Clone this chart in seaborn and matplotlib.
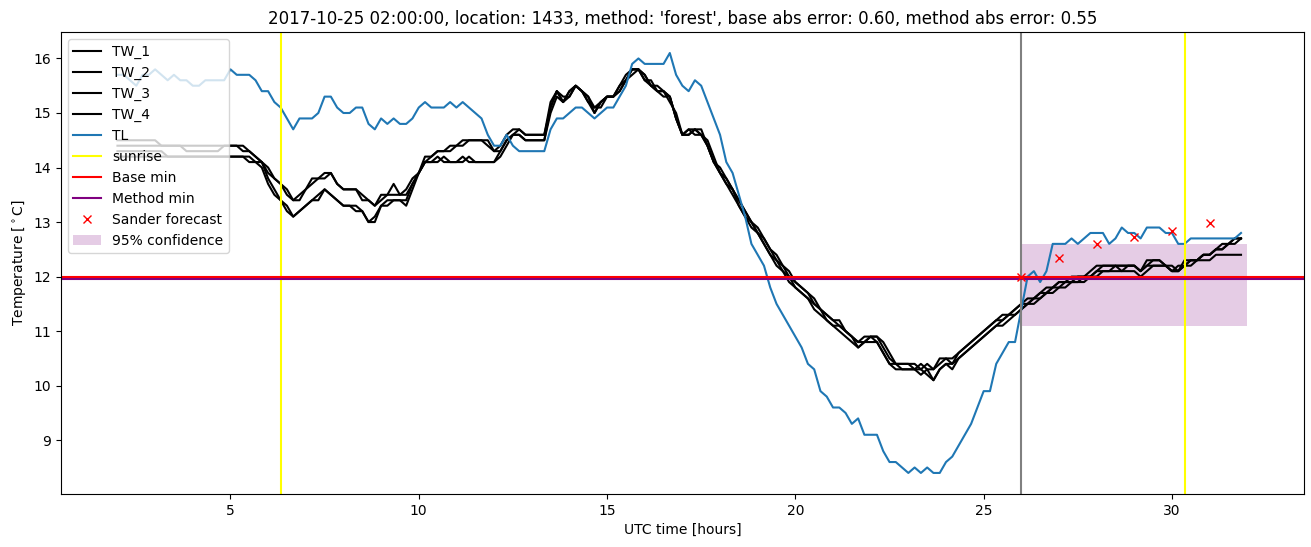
import numpy as np
import matplotlib
matplotlib.use("Agg")
import matplotlib.pyplot as plt
import seaborn as sns

# ---- data (10-minute samples, 02:00 .. 31:50 hours) ----
start_hour = 2.0
step_hours = 1 / 6

TW_1 = [
    14.5, 14.5, 14.5, 14.5, 14.5, 14.5,
    14.5, 14.4, 14.4, 14.4, 14.4, 14.4,
    14.4, 14.4, 14.4, 14.4, 14.4, 14.4,
    14.4, 14.4, 14.4, 14.3, 14.2, 14.1,
    13.9, 13.8, 13.7, 13.6, 13.4, 13.5,
    13.6, 13.8, 13.8, 13.9, 13.9, 13.7,
    13.6, 13.6, 13.6, 13.4, 13.4, 13.3,
    13.5, 13.5, 13.7, 13.5, 13.6, 13.8,
    13.9, 14.2, 14.2, 14.3, 14.3, 14.4,
    14.4, 14.5, 14.5, 14.5, 14.5, 14.4,
    14.3, 14.4, 14.6, 14.7, 14.7, 14.6,
    14.6, 14.6, 14.6, 15.2, 15.4, 15.2,
    15.4, 15.5, 15.4, 15.3, 15.1, 15.2,
    15.3, 15.3, 15.5, 15.7, 15.8, 15.8,
    15.7, 15.5, 15.5, 15.4, 15.3, 14.9,
    14.6, 14.7, 14.7, 14.7, 14.4, 14.1,
    14.0, 13.8, 13.6, 13.4, 13.2, 13.0,
    12.8, 12.7, 12.5, 12.3, 12.2, 12.0,
    11.9, 11.8, 11.7, 11.5, 11.4, 11.3,
    11.2, 11.1, 11.0, 10.9, 10.8, 10.8,
    10.9, 10.9, 10.7, 10.5, 10.4, 10.4,
    10.4, 10.4, 10.3, 10.4, 10.3, 10.5,
    10.5, 10.4, 10.6, 10.7, 10.8, 10.9,
    11.0, 11.1, 11.2, 11.3, 11.3, 11.4,
    11.5, 11.6, 11.6, 11.7, 11.8, 11.8,
    11.9, 11.9, 11.9, 12.0, 12.0, 12.1,
    12.2, 12.2, 12.2, 12.2, 12.2, 12.2,
    12.2, 12.1, 12.3, 12.3, 12.3, 12.2,
    12.1, 12.1, 12.3, 12.3, 12.3, 12.4,
    12.4, 12.5, 12.5, 12.6, 12.7, 12.7,
]

TW_2 = [
    14.4, 14.4, 14.4, 14.4, 14.4, 14.4,
    14.4, 14.4, 14.4, 14.4, 14.4, 14.3,
    14.3, 14.3, 14.3, 14.3, 14.3, 14.4,
    14.4, 14.4, 14.3, 14.3, 14.2, 14.1,
    14.0, 13.8, 13.7, 13.5, 13.4, 13.4,
    13.6, 13.7, 13.8, 13.8, 13.9, 13.7,
    13.6, 13.6, 13.6, 13.5, 13.4, 13.3,
    13.4, 13.5, 13.5, 13.5, 13.5, 13.7,
    13.9, 14.1, 14.2, 14.3, 14.3, 14.3,
    14.4, 14.4, 14.5, 14.5, 14.5, 14.5,
    14.3, 14.3, 14.5, 14.6, 14.7, 14.6,
    14.6, 14.6, 14.6, 15.1, 15.4, 15.3,
    15.3, 15.5, 15.4, 15.3, 15.0, 15.2,
    15.3, 15.3, 15.4, 15.6, 15.8, 15.8,
    15.6, 15.6, 15.4, 15.4, 15.3, 14.9,
    14.6, 14.6, 14.7, 14.6, 14.4, 14.1,
    13.9, 13.8, 13.6, 13.4, 13.2, 13.0,
    12.9, 12.7, 12.5, 12.4, 12.2, 12.1,
    11.9, 11.8, 11.7, 11.6, 11.4, 11.3,
    11.2, 11.2, 11.0, 10.9, 10.8, 10.9,
    10.9, 10.9, 10.8, 10.6, 10.4, 10.4,
    10.4, 10.3, 10.4, 10.3, 10.3, 10.4,
    10.5, 10.5, 10.6, 10.7, 10.8, 10.9,
    11.0, 11.1, 11.2, 11.2, 11.3, 11.4,
    11.5, 11.5, 11.6, 11.7, 11.7, 11.8,
    11.9, 11.9, 12.0, 12.0, 12.0, 12.0,
    12.1, 12.2, 12.2, 12.2, 12.1, 12.2,
    12.2, 12.1, 12.2, 12.3, 12.3, 12.2,
    12.1, 12.2, 12.2, 12.3, 12.3, 12.4,
    12.4, 12.5, 12.6, 12.6, 12.6, 12.7,
]

TW_3 = [
    14.3, 14.3, 14.3, 14.3, 14.3, 14.3,
    14.3, 14.3, 14.2, 14.2, 14.2, 14.2,
    14.2, 14.2, 14.2, 14.2, 14.2, 14.2,
    14.2, 14.2, 14.2, 14.2, 14.1, 14.1,
    13.8, 13.6, 13.4, 13.3, 13.1, 13.2,
    13.3, 13.4, 13.5, 13.6, 13.5, 13.4,
    13.3, 13.3, 13.3, 13.2, 13.0, 13.0,
    13.3, 13.3, 13.4, 13.4, 13.3, 13.6,
    13.9, 14.1, 14.1, 14.2, 14.1, 14.1,
    14.1, 14.2, 14.1, 14.1, 14.1, 14.1,
    14.1, 14.3, 14.5, 14.6, 14.6, 14.5,
    14.5, 14.5, 14.5, 15.1, 15.4, 15.2,
    15.3, 15.5, 15.4, 15.2, 15.1, 15.1,
    15.3, 15.3, 15.5, 15.6, 15.7, 15.8,
    15.6, 15.5, 15.4, 15.3, 15.3, 14.9,
    14.6, 14.6, 14.7, 14.6, 14.4, 14.1,
    13.9, 13.7, 13.6, 13.3, 13.1, 13.0,
    12.8, 12.6, 12.4, 12.3, 12.1, 12.0,
    11.8, 11.7, 11.6, 11.5, 11.4, 11.2,
    11.1, 11.1, 11.0, 10.9, 10.7, 10.8,
    10.9, 10.8, 10.6, 10.4, 10.4, 10.3,
    10.3, 10.3, 10.3, 10.2, 10.1, 10.3,
    10.4, 10.3, 10.5, 10.6, 10.7, 10.8,
    10.9, 11.0, 11.1, 11.2, 11.3, 11.3,
    11.4, 11.5, 11.6, 11.6, 11.7, 11.8,
    11.8, 11.9, 11.9, 11.9, 12.0, 12.0,
    12.1, 12.1, 12.1, 12.2, 12.2, 12.2,
    12.2, 12.1, 12.2, 12.2, 12.2, 12.2,
    12.1, 12.1, 12.2, 12.2, 12.3, 12.3,
    12.3, 12.4, 12.4, 12.4, 12.4, 12.4,
]

TW_4 = [
    14.2, 14.2, 14.2, 14.2, 14.2, 14.2,
    14.2, 14.2, 14.2, 14.2, 14.2, 14.2,
    14.2, 14.2, 14.2, 14.2, 14.2, 14.2,
    14.2, 14.2, 14.2, 14.1, 14.1, 14.0,
    13.7, 13.5, 13.4, 13.2, 13.1, 13.2,
    13.3, 13.4, 13.4, 13.6, 13.5, 13.4,
    13.3, 13.3, 13.2, 13.2, 13.0, 13.1,
    13.3, 13.4, 13.4, 13.4, 13.4, 13.7,
    13.9, 14.1, 14.1, 14.1, 14.2, 14.1,
    14.1, 14.1, 14.2, 14.1, 14.1, 14.1,
    14.1, 14.2, 14.4, 14.6, 14.6, 14.5,
    14.5, 14.5, 14.5, 15.0, 15.3, 15.2,
    15.4, 15.5, 15.4, 15.2, 15.0, 15.2,
    15.3, 15.3, 15.4, 15.6, 15.8, 15.8,
    15.7, 15.5, 15.4, 15.4, 15.2, 15.0,
    14.6, 14.7, 14.6, 14.6, 14.5, 14.2,
    13.9, 13.7, 13.5, 13.3, 13.1, 12.9,
    12.8, 12.6, 12.4, 12.2, 12.1, 11.9,
    11.8, 11.7, 11.6, 11.4, 11.3, 11.2,
    11.1, 11.0, 10.9, 10.8, 10.7, 10.8,
    10.8, 10.8, 10.6, 10.4, 10.3, 10.3,
    10.3, 10.3, 10.2, 10.3, 10.1, 10.3,
    10.4, 10.4, 10.5, 10.6, 10.7, 10.8,
    10.9, 11.0, 11.1, 11.1, 11.2, 11.3,
    11.4, 11.5, 11.5, 11.6, 11.7, 11.7,
    11.8, 11.8, 11.9, 11.9, 11.9, 12.0,
    12.0, 12.1, 12.1, 12.1, 12.1, 12.1,
    12.1, 12.0, 12.1, 12.2, 12.2, 12.2,
    12.2, 12.1, 12.2, 12.3, 12.3, 12.4,
    12.4, 12.5, 12.5, 12.6, 12.7, 12.7,
]

TL = [
    15.7, 15.7, 15.6, 15.5, 15.7, 15.7,
    15.8, 15.7, 15.6, 15.7, 15.6, 15.6,
    15.5, 15.5, 15.6, 15.6, 15.6, 15.6,
    15.8, 15.7, 15.7, 15.7, 15.6, 15.4,
    15.4, 15.2, 15.1, 14.9, 14.7, 14.9,
    14.9, 14.9, 15.0, 15.3, 15.3, 15.1,
    15.0, 15.0, 15.1, 15.1, 14.8, 14.7,
    14.9, 14.8, 14.9, 14.8, 14.8, 14.9,
    15.1, 15.2, 15.1, 15.1, 15.1, 15.2,
    15.1, 15.2, 15.1, 15.0, 14.9, 14.6,
    14.4, 14.4, 14.6, 14.4, 14.3, 14.3,
    14.3, 14.3, 14.3, 14.7, 14.9, 14.9,
    15.0, 15.1, 15.1, 15.0, 14.9, 15.0,
    15.1, 15.1, 15.3, 15.5, 15.9, 16.0,
    15.9, 15.9, 15.9, 15.9, 16.1, 15.7,
    15.5, 15.4, 15.6, 15.5, 15.2, 14.9,
    14.6, 14.1, 13.9, 13.5, 13.1, 12.6,
    12.4, 12.2, 11.8, 11.5, 11.3, 11.1,
    10.9, 10.7, 10.4, 10.3, 9.9, 9.8,
    9.6, 9.6, 9.5, 9.3, 9.4, 9.1,
    9.1, 9.1, 8.8, 8.6, 8.6, 8.5,
    8.4, 8.5, 8.4, 8.5, 8.4, 8.4,
    8.6, 8.7, 8.9, 9.1, 9.3, 9.6,
    9.9, 9.9, 10.4, 10.6, 10.8, 10.8,
    11.4, 12.0, 12.1, 11.9, 12.1, 12.6,
    12.6, 12.6, 12.7, 12.6, 12.7, 12.8,
    12.8, 12.8, 12.6, 12.7, 12.9, 12.8,
    12.8, 12.7, 12.9, 12.9, 12.9, 12.8,
    12.8, 12.6, 12.6, 12.7, 12.7, 12.7,
    12.7, 12.7, 12.7, 12.7, 12.7, 12.8,
]

sunrise_hours = [6.33, 30.35]
forecast_start = 26.0
base_min = 12.0
method_min = 11.96
sander_hours = [26, 27, 28, 29, 30, 31]
sander_values = [12.0, 12.35, 12.6, 12.72, 12.84, 12.98]
conf_hours = [26.0, 32.0]
conf_low = 11.1
conf_high = 12.6

title = ("2017-10-25 02:00:00, location: 1433, method: 'forest', "
         "base abs error: 0.60, method abs error: 0.55")

hours = start_hour + np.arange(len(TL)) * step_hours

# ---- plot ----
fig = plt.figure(figsize=(13.11, 5.47), dpi=100)
ax = fig.add_axes([0.0465, 0.097, 0.948, 0.8445])

for name, vals in [("TW_1", TW_1), ("TW_2", TW_2), ("TW_3", TW_3), ("TW_4", TW_4)]:
    sns.lineplot(x=hours, y=vals, color="black", label=name, ax=ax, legend=False)
sns.lineplot(x=hours, y=TL, color="C0", label="TL", ax=ax, legend=False)

for i, sr in enumerate(sunrise_hours):
    ax.axvline(sr, color="yellow", label="sunrise" if i == 0 else None)
ax.axvline(forecast_start, color="gray")
ax.axhline(base_min, color="red", label="Base min")
ax.axhline(method_min, color="purple", label="Method min")
ax.plot(sander_hours, sander_values, "x", color="red", label="Sander forecast")
ax.fill_between(conf_hours, conf_low, conf_high, color="purple", alpha=0.2,
                linewidth=0, label="95% confidence")

ax.set_title(title)
ax.set_xlabel("UTC time [hours]")
ax.set_ylabel(r"Temperature [$^\circ$C]")
ax.legend(loc="upper left")

fig.savefig("out.png", dpi=100)
